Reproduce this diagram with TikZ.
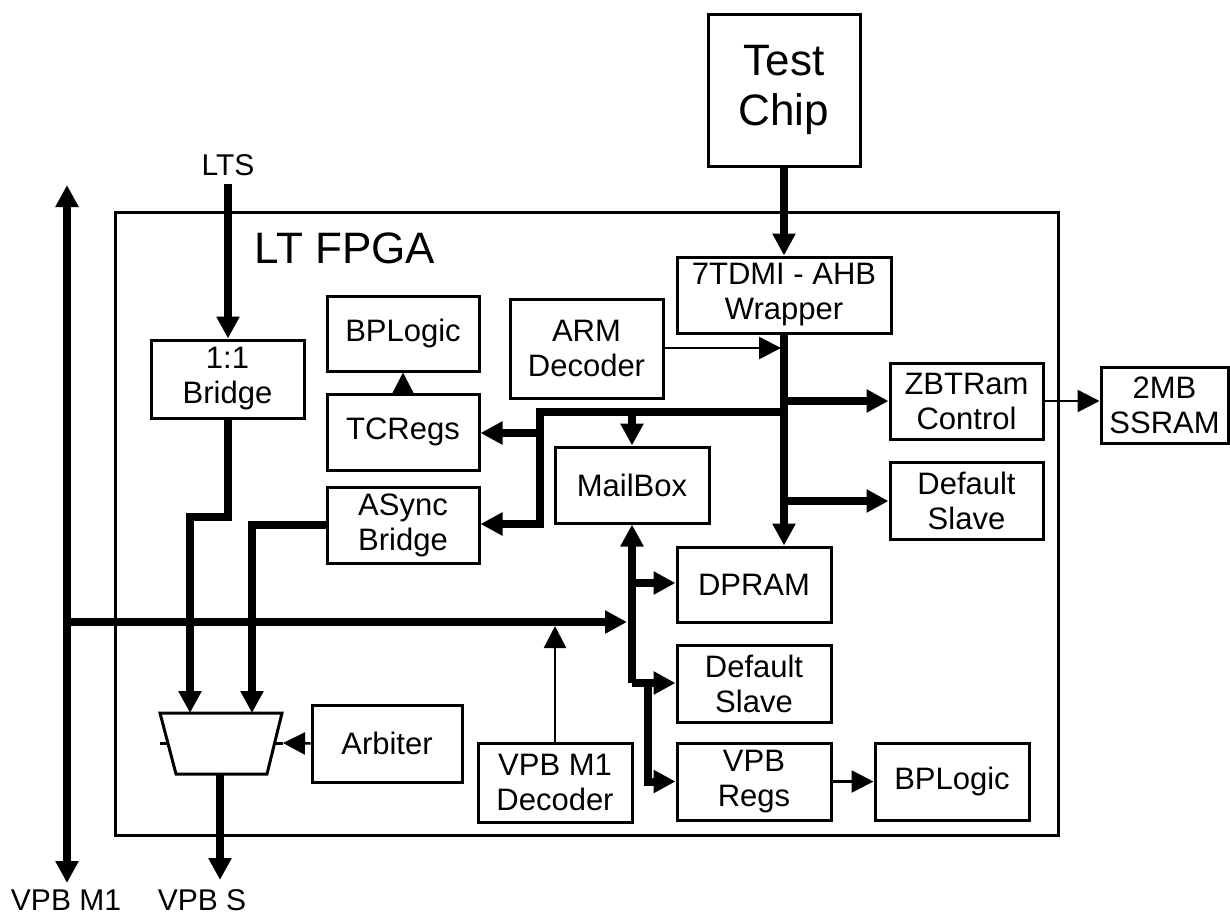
\documentclass[tikz,border=0pt]{standalone}
\usepackage{fontspec}
\setmainfont{Liberation Sans}
\usetikzlibrary{arrows.meta}
\begin{document}
\begin{tikzpicture}[x=1pt,y=-1pt,
  blk/.style={draw, line width=3pt, align=center, inner sep=0pt, font=\fontsize{31}{35}\selectfont},
  lbl/.style={inner sep=0pt, font=\fontsize{30}{34}\selectfont},
  biglbl/.style={inner sep=0pt, font=\fontsize{44}{50}\selectfont},
  bus/.style={line width=8pt},
  lnk/.style={line width=2.5pt},
  arrowend/.style={-{Triangle[length=22pt,width=22pt]}},
  bothends/.style={{Triangle[length=22pt,width=22pt]}-{Triangle[length=22pt,width=22pt]}}
]
\useasboundingbox (0,0) rectangle (1230,916);
\fill[white] (0,0) rectangle (1230,916);

% outer FPGA box
\node[draw, line width=3pt, minimum width=943pt, minimum height=623pt, inner sep=0pt] (fpga) at (586.5,523.5) {};
\node[biglbl] (fpgalbl) at (345,248) {LT FPGA};

% blocks
\node[blk, minimum width=152pt, minimum height=152pt, font=\fontsize{44}{50}\selectfont] (tc) at (784,90) {Test\\Chip};
\node[blk, minimum width=214pt, minimum height=76pt] (wrapper) at (784,295) {7TDMI - AHB\\Wrapper};
\node[blk, minimum width=153pt, minimum height=78pt] (br11) at (227.5,379) {1:1\\Bridge};
\node[blk, minimum width=152pt, minimum height=75pt] (bplogic1) at (403,333.5) {BPLogic};
\node[blk, minimum width=152pt, minimum height=76pt] (tcregs) at (403,432) {TCRegs};
\node[blk, minimum width=152pt, minimum height=76pt] (async) at (403,525) {ASync\\Bridge};
\node[blk, minimum width=153pt, minimum height=99pt] (armdec) at (586.5,348.5) {ARM\\Decoder};
\node[blk, minimum width=153pt, minimum height=76pt] (zbt) at (966.5,401) {ZBTRam\\Control};
\node[blk, minimum width=127pt, minimum height=76pt] (ssram) at (1164.5,405) {2MB\\SSRAM};
\node[blk, minimum width=153pt, minimum height=77pt] (dslave1) at (966.5,500.5) {Default\\Slave};
\node[blk, minimum width=154pt, minimum height=76pt] (mailbox) at (632,485) {MailBox};
\node[blk, minimum width=154pt, minimum height=75pt] (dpram) at (754,584.5) {DPRAM};
\node[blk, minimum width=154pt, minimum height=77pt] (dslave2) at (754,683.5) {Default\\Slave};
\node[blk, minimum width=150pt, minimum height=77pt] (arbiter) at (387,743.5) {Arbiter};
\node[blk, minimum width=154pt, minimum height=79pt] (vpbdec) at (555,782.5) {VPB M1\\Decoder};
\node[blk, minimum width=154pt, minimum height=77pt] (vpbregs) at (754,781.5) {VPB\\Regs};
\node[blk, minimum width=154pt, minimum height=77pt] (bplogic2) at (952,781.5) {BPLogic};

% outside labels
\node[lbl] (lts) at (228,165) {LTS};
\node[lbl] (vpbm1lbl) at (66,900) {VPB M1};
\node[lbl] (vpbslbl) at (202,900) {VPB S};

% multiplexer
\coordinate (muxTL) at (160,713);
\coordinate (muxTR) at (282,713);
\coordinate (muxBR) at (267,774);
\coordinate (muxBL) at (176,774);
\draw[line width=3pt] (muxTL) -- (muxTR) -- (muxBR) -- (muxBL) -- cycle;
\draw[line width=3pt] (160,743) -- (168,743) (275,743) -- (283,743);
\coordinate (muxIn1) at (190,713);
\coordinate (muxIn2) at (252,713);
\coordinate (muxOut) at (220,774);
\coordinate (muxR) at (283,743);

% VPB M1 main bus
\coordinate (vpbTop) at (67,185);
\coordinate (vpbBot) at (67,883);
\draw[bus, bothends] (vpbTop) -- (vpbBot);
\coordinate (vpbTap) at (67,622);
\coordinate (vpbJ) at (627,622);
\draw[bus, arrowend] (vpbTap) -- (vpbJ);
\coordinate (decTip) at (556,626);
\draw[lnk, arrowend] (vpbdec.north) -- (vpbdec.north |- decTip);

% VPB S
\coordinate (vpbsEnd) at (220,880);
\draw[bus, arrowend] (muxOut) -- (vpbsEnd);

% LTS
\coordinate (ltsStart) at (228,184);
\draw[bus, arrowend] (ltsStart) -- (ltsStart |- br11.north);

% Test chip -> wrapper
\draw[bus, arrowend] (tc.south) -- (wrapper.north);

% wrapper bus
\draw[bus, arrowend] (wrapper.south) -- (wrapper.south |- dpram.north);
\coordinate (wZ) at (784,401);
\draw[bus, arrowend] (wZ) -- (wZ -| zbt.west);
\coordinate (wD) at (784,501);
\draw[bus, arrowend] (wD) -- (wD -| dslave1.west);
\coordinate (wL) at (784,412);
\coordinate (wLk) at (540,412);
\coordinate (kT) at (540,433);
\coordinate (kA) at (540,524);
\coordinate (kM) at (632,412);
\draw[bus, arrowend] (wL) -- (wLk) -- (kA) -- (kA -| async.east);
\draw[bus, arrowend] (kT) -- (kT -| tcregs.east);
\draw[bus, arrowend] (kM) -- (mailbox.north);
\coordinate (armTip) at (781,348);
\draw[lnk, arrowend] (armdec.east |- armTip) -- (armTip);

% mailbox bus
\coordinate (mbLow) at (632,683);
\draw[bus, arrowend] (mbLow) -- (mailbox.south);
\draw[bus, arrowend] (mbLow) -- (mbLow -| dslave2.west);
\coordinate (mbDp) at (632,583);
\draw[bus, arrowend] (mbDp) -- (mbDp -| dpram.west);
\coordinate (mbKnee) at (648,683);
\draw[bus, arrowend] (mbKnee) |- (vpbregs.west);

% thin links
\draw[lnk, arrowend] (zbt.east) -- (zbt.east -| ssram.west);
\draw[lnk, arrowend] (vpbregs.east) -- (bplogic2.west);
\draw[lnk, arrowend] (tcregs.north) -- (bplogic1.south);
\draw[lnk, arrowend] (arbiter.west) -- (muxR);

% into multiplexer
\coordinate (bK) at (190,517);
\draw[bus, arrowend] (br11.south) |- (bK) -- (muxIn1);
\draw[bus, arrowend] (async.west) -| (muxIn2);
\end{tikzpicture}
\end{document}
